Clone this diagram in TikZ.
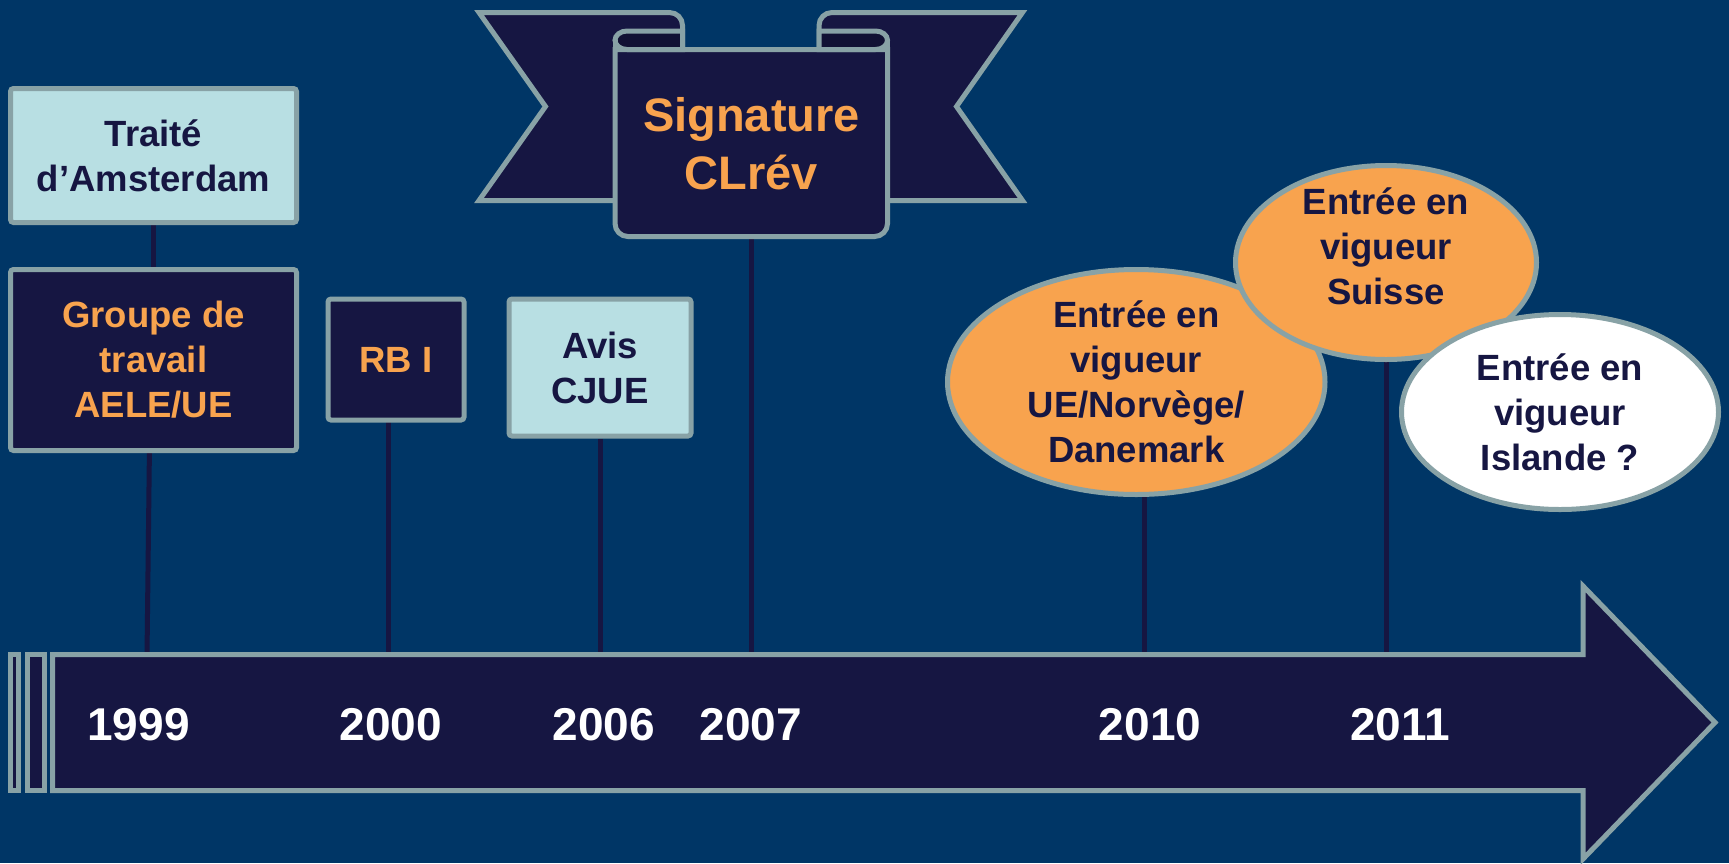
\documentclass[tikz,border=0pt]{standalone}
\usepackage{fontspec}
\setmainfont{Liberation Sans}
\usetikzlibrary{shapes.geometric}
\definecolor{bgblue}{RGB}{0,54,102}
\definecolor{inkblue}{RGB}{22,22,66}
\definecolor{inkdark}{RGB}{17,17,52}
\definecolor{rimgray}{RGB}{136,162,166}
\definecolor{pale}{RGB}{184,223,227}
\definecolor{orng}{RGB}{248,163,78}
\pgfdeclarelayer{back}
\pgfsetlayers{back,main}
\tikzset{
  shp/.style={draw=rimgray, line width=5pt},
  box/.style={shp, rectangle, rounded corners=3pt, inner sep=0pt, align=center,
    font=\bfseries\fontsize{36.5}{45}\selectfont},
  darkbox/.style={box, fill=inkblue, text=orng},
  palebox/.style={box, fill=pale, text=inkblue},
  ell/.style={shp, ellipse, inner sep=0pt},
  etxt/.style={align=center, text=inkblue, inner sep=0pt,
    font=\bfseries\fontsize{36.5}{45}\selectfont},
  sigtext/.style={align=center, text=orng, inner sep=0pt,
    font=\bfseries\fontsize{47}{58}\selectfont},
  year/.style={text=white, inner sep=0pt, anchor=base,
    font=\bfseries\fontsize{46}{55}\selectfont},
  conn/.style={draw=inkblue, line width=5pt},
}
\begin{document}
\begin{tikzpicture}[x=1pt,y=-1pt]
\useasboundingbox (0,0) rectangle (1729,863);
\begin{pgfonlayer}{back}
\fill[bgblue] (0,0) rectangle (1729,863);
\end{pgfonlayer}

% banner wings
\draw[shp, fill=inkblue] (479,12.5) -- (669.5,12.5) .. controls (676.7,12.5) and (682.5,18.3) .. (682.5,25.5) -- (682.5,200.5) -- (479,200.5) -- (545.5,106.5) -- cycle;
\draw[shp, fill=inkblue] (1022.5,12.5) -- (832,12.5) .. controls (824.8,12.5) and (819,18.3) .. (819,25.5) -- (819,200.5) -- (1022.5,200.5) -- (956.5,106.5) -- cycle;
% banner panel
\draw[shp, fill=inkblue] (615,49.5) -- (615,223.5) .. controls (615,230.7) and (620.8,236.5) .. (628,236.5) -- (874.5,236.5) .. controls (881.7,236.5) and (887.5,230.7) .. (887.5,223.5) -- (887.5,49.5) -- cycle;
% rolls
\draw[shp, fill=inkdark] (682.5,31) -- (627,31) .. controls (620.4,31) and (615,35.2) .. (615,40.25) .. controls (615,45.3) and (620.4,49.5) .. (627,49.5) -- (682.5,49.5) -- cycle;
\draw[shp, fill=inkdark] (819,31) -- (875.5,31) .. controls (882.1,31) and (887.5,35.2) .. (887.5,40.25) .. controls (887.5,45.3) and (882.1,49.5) .. (875.5,49.5) -- (819,49.5) -- cycle;
\draw[shp] (615,40.25) -- (615,51);
\draw[shp] (887.5,40.25) -- (887.5,51);
\node[sigtext] (sigtxt) at (751.5,144) {Signature\\CLrév};
\coordinate (sig) at (751,236.5);

% boxes
\node[palebox, minimum width=286pt, minimum height=134pt] (traite) at (153.5,155.5) {Traité\\d’Amsterdam};
\node[darkbox, minimum width=286pt, minimum height=181pt] (groupe) at (153.5,360) {Groupe de\\travail\\AELE/UE};
\node[darkbox, minimum width=136pt, minimum height=121pt] (rb) at (396,359.5) {RB I};
\node[palebox, minimum width=182pt, minimum height=137pt] (avis) at (600,367.5) {Avis\\CJUE};

% ellipses
\node[ell, fill=orng, minimum width=377.5pt, minimum height=225pt] (ue) at (1136.25,382) {};
\node[etxt] (uetxt) at (ue) {Entrée en\\vigueur\\UE/Norvège/\\Danemark};
\node[ell, fill=orng, minimum width=301pt, minimum height=194pt] (ch) at (1386,262.5) {};
\node[etxt] (chtxt) at (1386,246) {Entrée en\\vigueur\\Suisse};
\node[ell, fill=white, minimum width=317pt, minimum height=195pt] (is) at (1560,412) {};
\node[etxt] (istxt) at (is) {Entrée en\\vigueur\\Islande ?};

% time axis
\draw[shp, fill=inkblue] (52.5,654.5) -- (1583,654.5) -- (1583,586) -- (1715,722.5) -- (1583,859) -- (1583,790.5) -- (52.5,790.5) -- cycle;
\draw[shp, fill=inkblue] (10,654.5) rectangle (18,790.5);
\draw[shp, fill=inkblue] (27.5,654.5) rectangle (44.2,790.5);

\node[year] (y1999) at (138.5,740) {1999};
\node[year] (y2000) at (391,740) {2000};
\node[year] (y2006) at (604,740) {2006};
\node[year] (y2007) at (751,740) {2007};
\node[year] (y2010) at (1150,740) {2010};
\node[year] (y2011) at (1400,740) {2011};

\coordinate (t1999) at (147,656);
\coordinate (t2000) at (388,656);
\coordinate (t2006) at (600,656);
\coordinate (t2007) at (751,656);
\coordinate (t2010) at (1144,656);
\coordinate (t2011) at (1386,656);

\begin{pgfonlayer}{back}
\draw[conn] (traite) -- (groupe);
\draw[conn] ([xshift=-3pt]groupe.center) -- (t1999);
\draw[conn] (rb.center -| t2000) -- (t2000);
\draw[conn] (avis) -- (t2006);
\draw[conn] (sig) -- (t2007);
\draw[conn] (ue.center -| t2010) -- (t2010);
\draw[conn] (ch) -- (t2011);
\end{pgfonlayer}
\end{tikzpicture}
\end{document}
